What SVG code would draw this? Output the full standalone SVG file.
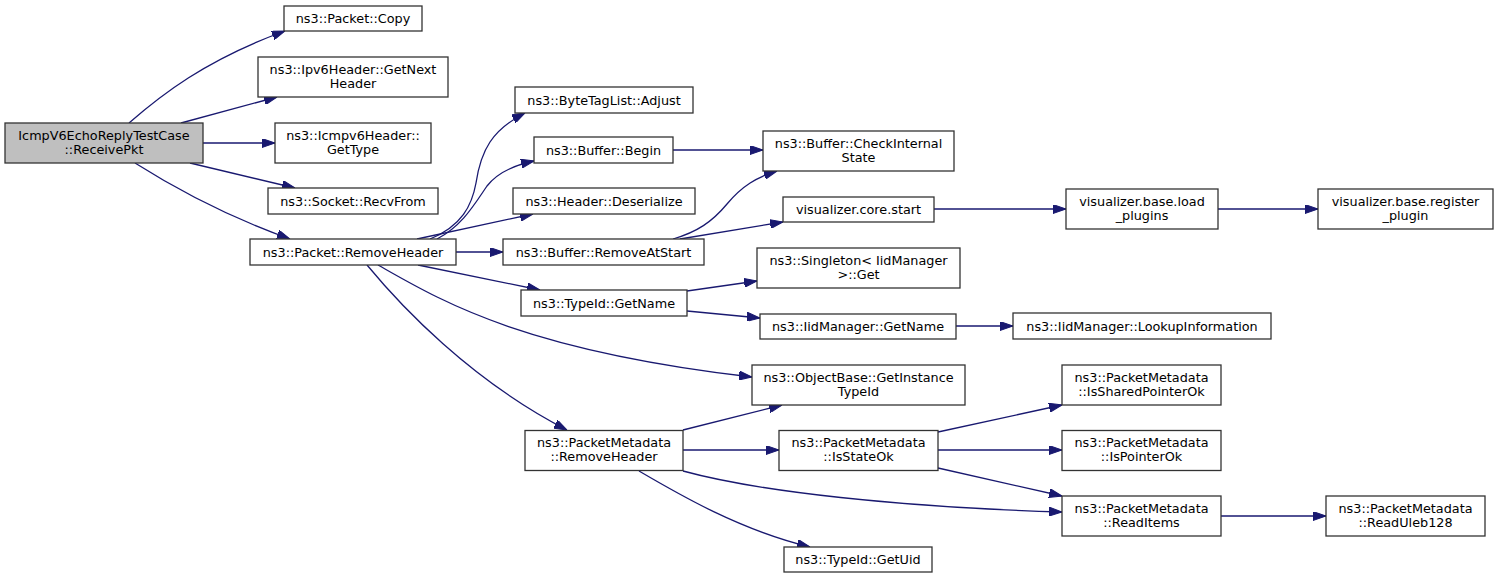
<svg xmlns="http://www.w3.org/2000/svg" width="1499" height="579" viewBox="0 0 1499 579">
<style>
.n rect{fill:#ffffff;stroke:#333333;stroke-width:1.3}
.n.main rect{fill:#bfbfbf}
.n text{font-family:"DejaVu Sans",Verdana,sans-serif;font-size:12.8px;fill:#000000;text-anchor:middle}
.e path{fill:none;stroke:#191970;stroke-width:1.3;marker-end:url(#ah)}
</style>
<defs>
<marker id="ah" viewBox="0 0 13 9" refX="13" refY="4.5" markerWidth="13" markerHeight="9" markerUnits="userSpaceOnUse" orient="auto">
<path d="M0,0 L13,4.5 L0,9 z" fill="#191970" stroke="#191970" stroke-width="1"/>
</marker>
</defs>
<rect width="1499" height="579" fill="#ffffff"/>
<g id="edges" class="e">
<path d="M129,123 C160,96 205,60 285,31"/>
<path d="M181,123 L277,97"/>
<path d="M203,143 L275,143"/>
<path d="M190,163 L295,188"/>
<path d="M135,163 C165,182 215,212 290,239"/>
<path d="M430,239 C462,226 472,205 476,183 C481,150 492,130 525,113"/>
<path d="M437,239 C462,226 474,205 487,186 C498,172 515,165 534,161"/>
<path d="M417,239 L533,214"/>
<path d="M456,252 L503,252"/>
<path d="M418,265 L540,290"/>
<path d="M378,265 C440,300 520,350 752,377"/>
<path d="M367,265 C400,305 470,380 567,430"/>
<path d="M673,150 L763,150"/>
<path d="M673,239 C697,232 712,222 727,204 C742,186 757,177 777,171"/>
<path d="M680,239 L783,222"/>
<path d="M934,209 L1066,209"/>
<path d="M1218,209 L1318,209"/>
<path d="M687,291 L757,281"/>
<path d="M687,311 L760,318"/>
<path d="M956,326 L1013,326"/>
<path d="M683,430 L782,405"/>
<path d="M683,450 L779,450"/>
<path d="M683,471 C760,492 900,507 1062,512"/>
<path d="M639,471 C680,495 740,530 810,547"/>
<path d="M938,432 L1062,405"/>
<path d="M938,450 L1062,450"/>
<path d="M938,468 L1062,496"/>
<path d="M1221,516 L1326,516"/>
</g>
<g id="n_main" class="n main"><rect x="5" y="123" width="198" height="40"/><text x="104" y="139.5">IcmpV6EchoReplyTestCase</text><text x="104" y="153.5">::ReceivePkt</text></g>
<g id="n_copy" class="n"><rect x="284" y="6" width="138" height="25"/><text x="353" y="23">ns3::Packet::Copy</text></g>
<g id="n_ipv6" class="n"><rect x="258" y="57" width="190" height="40"/><text x="353" y="73.5">ns3::Ipv6Header::GetNext</text><text x="353" y="87.5">Header</text></g>
<g id="n_icmpv6" class="n"><rect x="275" y="123" width="156" height="40"/><text x="353" y="139.5">ns3::Icmpv6Header::</text><text x="353" y="153.5">GetType</text></g>
<g id="n_recvfrom" class="n"><rect x="268" y="188" width="170" height="26"/><text x="353" y="205.5">ns3::Socket::RecvFrom</text></g>
<g id="n_pkt_removeheader" class="n"><rect x="250" y="239" width="206" height="26"/><text x="353" y="256.5">ns3::Packet::RemoveHeader</text></g>
<g id="n_adjust" class="n"><rect x="515" y="87" width="178" height="26"/><text x="604" y="104.5">ns3::ByteTagList::Adjust</text></g>
<g id="n_begin" class="n"><rect x="534" y="137" width="139" height="26"/><text x="603.5" y="154.5">ns3::Buffer::Begin</text></g>
<g id="n_deserialize" class="n"><rect x="513" y="188" width="182" height="26"/><text x="604" y="205.5">ns3::Header::Deserialize</text></g>
<g id="n_removeatstart" class="n"><rect x="503" y="239" width="201" height="26"/><text x="603.5" y="256.5">ns3::Buffer::RemoveAtStart</text></g>
<g id="n_typeid_getname" class="n"><rect x="521" y="290" width="166" height="26"/><text x="604" y="307.5">ns3::TypeId::GetName</text></g>
<g id="n_checkinternal" class="n"><rect x="763" y="131" width="191" height="40"/><text x="858.5" y="147.5">ns3::Buffer::CheckInternal</text><text x="858.5" y="161.5">State</text></g>
<g id="n_core_start" class="n"><rect x="783" y="197" width="151" height="25"/><text x="858.5" y="214">visualizer.core.start</text></g>
<g id="n_singleton" class="n"><rect x="757" y="248" width="203" height="40"/><text x="858.5" y="264.5">ns3::Singleton&lt; IidManager</text><text x="858.5" y="278.5">&gt;::Get</text></g>
<g id="n_iid_getname" class="n"><rect x="760" y="314" width="196" height="25"/><text x="858" y="331">ns3::IidManager::GetName</text></g>
<g id="n_load_plugins" class="n"><rect x="1066" y="189" width="152" height="40"/><text x="1142" y="205.5">visualizer.base.load</text><text x="1142" y="219.5">_plugins</text></g>
<g id="n_register_plugin" class="n"><rect x="1318" y="189" width="175" height="40"/><text x="1405.5" y="205.5">visualizer.base.register</text><text x="1405.5" y="219.5">_plugin</text></g>
<g id="n_lookup" class="n"><rect x="1013" y="313" width="258" height="26"/><text x="1142" y="330.5">ns3::IidManager::LookupInformation</text></g>
<g id="n_objectbase" class="n"><rect x="752" y="365" width="213" height="40"/><text x="858.5" y="381.5">ns3::ObjectBase::GetInstance</text><text x="858.5" y="395.5">TypeId</text></g>
<g id="n_pm_removeheader" class="n"><rect x="525" y="430.5" width="158" height="40"/><text x="604" y="447">ns3::PacketMetadata</text><text x="604" y="461">::RemoveHeader</text></g>
<g id="n_isstateok" class="n"><rect x="779" y="430.5" width="159" height="40"/><text x="858.5" y="447">ns3::PacketMetadata</text><text x="858.5" y="461">::IsStateOk</text></g>
<g id="n_getuid" class="n"><rect x="784" y="547" width="148" height="25"/><text x="858" y="564">ns3::TypeId::GetUid</text></g>
<g id="n_issharedpointerok" class="n"><rect x="1062" y="365" width="159" height="40"/><text x="1141.5" y="381.5">ns3::PacketMetadata</text><text x="1141.5" y="395.5">::IsSharedPointerOk</text></g>
<g id="n_ispointerok" class="n"><rect x="1062" y="430.5" width="159" height="40"/><text x="1141.5" y="447">ns3::PacketMetadata</text><text x="1141.5" y="461">::IsPointerOk</text></g>
<g id="n_readitems" class="n"><rect x="1062" y="496" width="159" height="40"/><text x="1141.5" y="512.5">ns3::PacketMetadata</text><text x="1141.5" y="526.5">::ReadItems</text></g>
<g id="n_readuleb128" class="n"><rect x="1326" y="496" width="159" height="40"/><text x="1405.5" y="512.5">ns3::PacketMetadata</text><text x="1405.5" y="526.5">::ReadUleb128</text></g>
</svg>
